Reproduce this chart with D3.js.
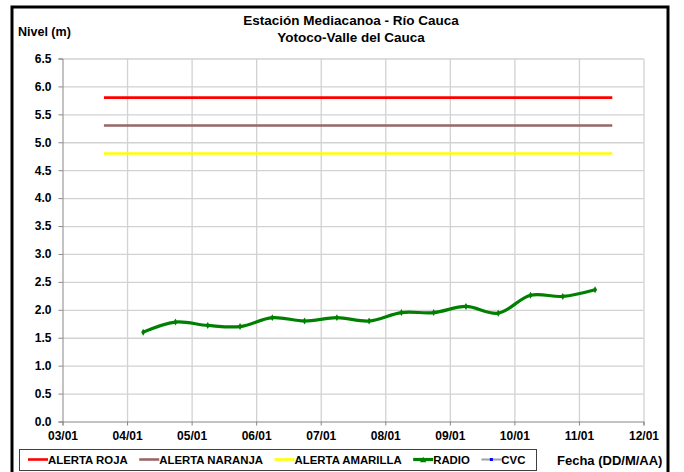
<!DOCTYPE html>
<html><head><meta charset="utf-8">
<script src="https://cdn.jsdelivr.net/npm/d3@7"></script>
<style>
body{margin:0;background:#fff}
text{font-family:"Liberation Sans",Arial,sans-serif;font-weight:bold;fill:#000}
</style>
</head><body>
<svg id="chart" width="684" height="472"></svg>
<script>
// ---------- data ----------
const titleLines = ["Estación Mediacanoa - Río Cauca", "Yotoco-Valle del Cauca"];
const yAxisTitle = "Nivel (m)";
const xAxisTitle = "Fecha (DD/M/AA)";
const xTickDates = ["2011-01-03T00:00","2011-01-04T00:00","2011-01-05T00:00","2011-01-06T00:00","2011-01-07T00:00",
                    "2011-01-08T00:00","2011-01-09T00:00","2011-01-10T00:00","2011-01-11T00:00","2011-01-12T00:00"];
const yTickValues = [0,0.5,1,1.5,2,2.5,3,3.5,4,4.5,5,5.5,6,6.5];
const alertNames = ["ALERTA ROJA","ALERTA NARANJA","ALERTA AMARILLA"];
const alertLevels = [5.8, 5.3, 4.8];
const alertColors = ["#ff0000","#996666","#ffff00"];
const alertSpan = ["2011-01-03T15:24","2011-01-11T12:24"];
const radioTimes = ["2011-01-04T06:00","2011-01-04T18:00","2011-01-05T06:00","2011-01-05T18:00","2011-01-06T06:00",
                    "2011-01-06T18:00","2011-01-07T06:00","2011-01-07T18:00","2011-01-08T06:00","2011-01-08T18:00",
                    "2011-01-09T06:00","2011-01-09T18:00","2011-01-10T06:00","2011-01-10T18:00","2011-01-11T06:00"];
const radioValues = [1.60,1.78,1.72,1.70,1.86,1.80,1.86,1.80,1.95,1.95,2.06,1.94,2.26,2.24,2.36];
const cvcTimes = [];
const cvcValues = [];
const legendNames = ["ALERTA ROJA","ALERTA NARANJA","ALERTA AMARILLA","RADIO","CVC"];
const radioColor = "#008000";
const cvcColor = "#0000ff";

// ---------- setup ----------
const parse = d3.timeParse("%Y-%m-%dT%H:%M");
const svg = d3.select("#chart");
const plot = {left: 62.5, right: 643.5, top: 58.5, bottom: 421.5};

const x = d3.scaleTime()
  .domain([parse(xTickDates[0]), parse(xTickDates[xTickDates.length-1])])
  .range([plot.left, plot.right]);
const y = d3.scaleLinear().domain([0, 6.5]).range([plot.bottom, plot.top]);

// outer border
svg.append("rect").attr("x",12).attr("y",7).attr("width",656).attr("height",480)
  .attr("fill","none").attr("stroke","#000").attr("stroke-width",3);

// gridlines
const gridColor = "#d2d2d2";
svg.append("g").attr("transform",`translate(0,${plot.bottom})`)
  .call(d3.axisBottom(x).tickValues(xTickDates.slice(1).map(parse)).tickSize(-(plot.bottom-plot.top)).tickFormat(""))
  .call(g=>g.select(".domain").remove())
  .call(g=>g.selectAll("line").attr("stroke",gridColor).attr("stroke-width",1.3));
svg.append("g").attr("transform",`translate(${plot.left},0)`)
  .call(d3.axisLeft(y).tickValues(yTickValues.slice(1)).tickSize(-(plot.right-plot.left)).tickFormat(""))
  .call(g=>g.select(".domain").remove())
  .call(g=>g.selectAll("line").attr("stroke",gridColor).attr("stroke-width",1.3));

// axes
const axisColor = "#868686";
const xAxis = svg.append("g").attr("transform",`translate(0,${plot.bottom})`)
  .call(d3.axisBottom(x).tickValues(xTickDates.map(parse)).tickFormat(d3.timeFormat("%d/%m")).tickSizeOuter(0).tickSize(4).tickPadding(6));
xAxis.selectAll("text").attr("font-size",12).style("font-family","Liberation Sans, Arial, sans-serif").style("font-weight","bold").attr("fill","#000");
const yAxis = svg.append("g").attr("transform",`translate(${plot.left},0)`)
  .call(d3.axisLeft(y).tickValues(yTickValues).tickFormat(d3.format(".1f")).tickSizeOuter(0).tickSize(4).tickPadding(7));
yAxis.selectAll("text").attr("font-size",12).style("font-family","Liberation Sans, Arial, sans-serif").style("font-weight","bold").attr("fill","#000");
[xAxis,yAxis].forEach(a=>{a.selectAll("line,path").attr("stroke",axisColor);});

// alert lines
alertLevels.forEach((lv,i)=>{
  svg.append("line")
    .attr("x1",x(parse(alertSpan[0]))).attr("x2",x(parse(alertSpan[1])))
    .attr("y1",y(lv)).attr("y2",y(lv))
    .attr("stroke",alertColors[i]).attr("stroke-width",2.6);
});

// radio series
const radio = radioTimes.map((t,i)=>({t:parse(t), v:radioValues[i]}));
const line = d3.line().x(d=>x(d.t)).y(d=>y(d.v)).curve(d3.curveCatmullRom.alpha(0.5));
svg.append("path").datum(radio).attr("d",line).attr("fill","none")
  .attr("stroke",radioColor).attr("stroke-width",3.2).attr("stroke-linejoin","round");
svg.selectAll(".rm").data(radio).enter().append("path")
  .attr("transform",d=>`translate(${x(d.t)},${y(d.v)})`)
  .attr("d",d3.symbol(d3.symbolDiamond,14)).attr("fill",radioColor);

// cvc series (empty)
const cvc = cvcTimes.map((t,i)=>({t:parse(t), v:cvcValues[i]}));
svg.append("path").datum(cvc).attr("d",d3.line().x(d=>x(d.t)).y(d=>y(d.v))).attr("fill","none").attr("stroke","#a0a0a0");

// titles
svg.selectAll(".title").data(titleLines).enter().append("text")
  .attr("x",351).attr("y",(d,i)=>25+i*16.5).attr("text-anchor","middle").attr("font-size",13.5).text(d=>d);
svg.append("text").attr("x",18).attr("y",36).attr("font-size",12.5).text(yAxisTitle);
svg.append("text").attr("x",557).attr("y",465).attr("font-size",13).text(xAxisTitle);

// legend
const lg = svg.append("g");
lg.append("rect").attr("x",19.5).attr("y",449.5).attr("width",517).attr("height",21)
  .attr("fill","#fff").attr("stroke","#404040").attr("stroke-width",1);
let cx = 28;
legendNames.forEach((name,i)=>{
  const ly = 459.5;
  let color, sw = 2.6;
  if (i < 3) color = alertColors[i];
  else if (i === 3) { color = radioColor; sw = 3.2; }
  else { color = "#a0a0a0"; sw = 2; }
  lg.append("line").attr("x1",cx).attr("x2",cx+20).attr("y1",ly).attr("y2",ly).attr("stroke",color).attr("stroke-width",sw);
  if (i === 3) lg.append("path").attr("transform",`translate(${cx+10},${ly+1})`).attr("d",d3.symbol(d3.symbolTriangle,18)).attr("fill",radioColor);
  if (i === 4) lg.append("rect").attr("x",cx+8.5).attr("y",ly-1.5).attr("width",3).attr("height",3).attr("fill",cvcColor);
  const t = lg.append("text").attr("x",cx+20).attr("y",ly+4.3).attr("font-size",11.4).text(name);
  cx += 20 + t.node().getComputedTextLength() + 11.5;
});
</script>
</body></html>
